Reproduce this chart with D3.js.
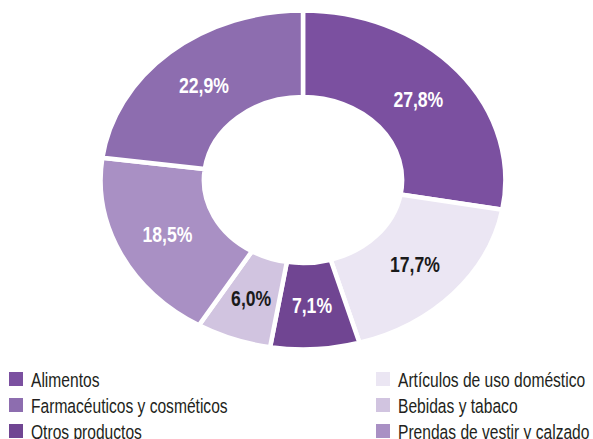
<!DOCTYPE html>
<html>
<head>
<meta charset="utf-8">
<script src="https://cdn.jsdelivr.net/npm/d3@7"></script>
<style>
  body { margin: 0; background: #fff; }
  svg { display: block; }
</style>
</head>
<body>
<div class="render"></div>
<script>
'use strict';

// slices, clockwise from 12 o'clock
var categories = ['Alimentos', 'Artículos de uso doméstico', 'Otros productos',
   'Bebidas y tabaco', 'Prendas de vestir y calzado', 'Farmacéuticos y cosméticos'];
var values = [27.8, 17.7, 7.1, 6.0, 18.5, 22.9];
var colors = ['#7b50a0', '#ebe6f3', '#704592', '#d1c4e0', '#a990c4', '#8d6daf'];
var labelColors = ['#fff', '#1a1a1a', '#fff', '#1a1a1a', '#fff', '#fff'];

// legend order (left column then right column)
var legendLeft = ['Alimentos', 'Farmacéuticos y cosméticos', 'Otros productos'];
var legendRight = ['Artículos de uso doméstico', 'Bebidas y tabaco', 'Prendas de vestir y calzado'];

function draw() {
   var w = 593;
   var h = 439;
   var cx = 303, cy = 180;
   var sx = 1.194; // the donut is stretched horizontally
   var outer = 169.5, inner = 83;
   var narrow = 0.8; // condensed look from a regular font
   var font = '"Liberation Sans", Arial, sans-serif';

   var svg = d3.select('.render').append('svg').attr('width', w).attr('height', h);

   var color = d3.scaleOrdinal().domain(categories).range(colors);
   var pie = d3.pie().sort(null).value(function (d) { return d.v; });
   var data = categories.map(function (c, i) { return { name: c, v: values[i], i: i }; });
   var arcs = pie(data);
   var arc = d3.arc().innerRadius(inner).outerRadius(outer);
   var labelArc = d3.arc().innerRadius(126).outerRadius(126);

   var g = svg.append('g').attr('transform', 'translate(' + cx + ',' + cy + ') scale(' + sx + ',1)');
   g.selectAll('path').data(arcs).enter().append('path')
      .attr('d', arc)
      .attr('fill', function (d) { return color(d.data.name); })
      .attr('stroke', '#fff')
      .attr('stroke-width', 4.5)
      .attr('stroke-linejoin', 'miter')
      .attr('vector-effect', 'non-scaling-stroke');

   svg.selectAll('text.lbl').data(arcs).enter().append('text')
      .attr('class', 'lbl')
      .attr('transform', function (d) {
         var c = labelArc.centroid(d);
         return 'translate(' + (cx + c[0] * sx) + ',' + (cy + c[1] + 7.5) + ') scale(' + narrow + ',1)';
      })
      .attr('text-anchor', 'middle')
      .style('font-family', font)
      .style('font-weight', 'bold')
      .style('font-size', '22px')
      .style('fill', function (d) { return labelColors[d.data.i]; })
      .text(function (d) { return d3.format('.1f')(d.data.v).replace('.', ',') + '%'; });

   // legend
   var rowY = d3.scalePoint().domain([0, 1, 2]).range([387, 439]);
   function legend(list, x0) {
      var lg = svg.append('g');
      var items = lg.selectAll('g').data(list).enter().append('g')
         .attr('transform', function (d, i) { return 'translate(' + x0 + ',' + rowY(i) + ')'; });
      items.append('rect')
         .attr('x', 0).attr('y', -15).attr('width', 14).attr('height', 14)
         .attr('fill', function (d) { return color(d); });
      items.append('text')
         .attr('transform', 'translate(22,0) scale(' + narrow + ',1)')
         .style('font-family', font)
         .style('font-size', '19.5px')
         .style('fill', '#231f20')
         .text(function (d) { return d; });
   }
   legend(legendLeft, 9);
   legend(legendRight, 376);
}
draw();
</script>
</body>
</html>
